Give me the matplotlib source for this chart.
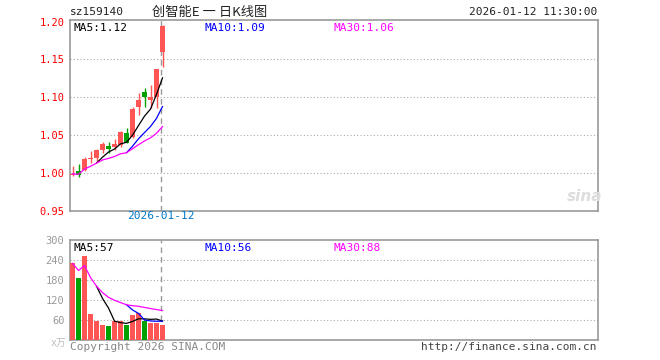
import matplotlib
matplotlib.use("Agg")
import matplotlib.pyplot as plt
import pandas as pd

# daily candles, sz159140
opens = [0.997, 1.003, 1.004, 1.019, 1.020, 1.031, 1.036, 1.034, 1.037, 1.053,
         1.048, 1.087, 1.107, 1.0965, 1.100, 1.160]
highs = [1.0096, 1.012, 1.0217, 1.0297, 1.032, 1.0416, 1.0416, 1.0447, 1.056, 1.059,
         1.0868, 1.1055, 1.112, 1.116, 1.138, 1.196]
lows = [0.996, 0.9955, 1.0033, 1.013, 1.015, 1.026, 1.026, 1.0307, 1.035, 1.0395,
        1.046, 1.077, 1.0876, 1.0855, 1.0855, 1.140]
closes = [0.999, 0.998, 1.019, 1.020, 1.030, 1.038, 1.032, 1.039, 1.054, 1.040,
          1.085, 1.096, 1.101, 1.1005, 1.137, 1.194]
volumes = [230, 187, 253, 79, 58, 46, 43, 57, 57, 46, 76, 82, 56, 50, 50, 46]
vol_up = [True, False, True, True, True, True, False, True, True, False,
          True, True, False, True, True, True]

price_ticks = [0.95, 1.00, 1.05, 1.10, 1.15, 1.20]
vol_ticks = [60, 120, 180, 240, 300]

RED = "#ff5555"
GREEN = "#00a000"
GRID = "#aaaaaa"
FRAME = "#999999"
MONO = ["DejaVu Sans Mono", "Noto Sans CJK SC"]
N_SLOTS = 88

plt.rcParams["font.family"] = MONO

close_s = pd.Series(closes)
vol_s = pd.Series(volumes, dtype=float)
ma5 = close_s.rolling(5).mean()
ma10 = close_s.rolling(10).mean()
ma30 = close_s.rolling(30, min_periods=1).mean()
vma5 = vol_s.rolling(5).mean()
vma10 = vol_s.rolling(10).mean()
vma30 = vol_s.rolling(30, min_periods=1).mean()
xs = list(range(len(closes)))

fig = plt.figure(figsize=(6.6, 3.6), dpi=100)
ax = fig.add_axes([70 / 660, 1 - 211 / 360, 528 / 660, 191 / 360])
axv = fig.add_axes([70 / 660, 1 - 340 / 360, 528 / 660, 100 / 360])

xlim = (-0.42, N_SLOTS - 0.42)
marker_x = len(closes) - 1.3

# price panel
for i in xs:
    up = closes[i] >= opens[i]
    col = RED if up else GREEN
    ax.vlines(i, lows[i], highs[i], color=col, lw=1, zorder=3)
    lo, hi = sorted((opens[i], closes[i]))
    ax.bar(i, max(hi - lo, 0.0008), bottom=lo, width=0.82, color=col, zorder=3,
           linewidth=0)
ax.plot(xs, ma5, color="black", lw=0.9, zorder=4)
ax.plot(xs, ma10, color="#0000ff", lw=0.9, zorder=4)
ax.plot(xs, ma30, color="#ff00ff", lw=0.9, zorder=4)
ax.axvline(marker_x, color=FRAME, lw=1, ls=(0, (4, 3)), zorder=2)
ax.set_xlim(*xlim)
ax.set_ylim(0.95, 1.202)
ax.set_yticks(price_ticks)
ax.set_yticklabels([f"{t:.2f}" for t in price_ticks], color="red", fontsize=7.5)
ax.set_xticks([])
for t in price_ticks[1:-1]:
    ax.axhline(t, color=GRID, lw=0.8, ls=(0, (1, 2)), zorder=1)
ax.tick_params(axis="y", length=0, pad=4)
for sp in ax.spines.values():
    sp.set_color(FRAME)
    sp.set_linewidth(1.2)
ax.text(0.006, 0.985, "MA5:1.12", transform=ax.transAxes, va="top", fontsize=8,
        color="black")
ax.text(0.255, 0.985, "MA10:1.09", transform=ax.transAxes, va="top", fontsize=8,
        color="#0000ff")
ax.text(0.5, 0.985, "MA30:1.06", transform=ax.transAxes, va="top", fontsize=8,
        color="#ff00ff")
ax.text(marker_x, 0.944, "2026-01-12", ha="center", va="center", fontsize=8,
        color="#0078c8")
ax.text(0.975, 0.075, "sina", transform=ax.transAxes, ha="center", va="center",
        fontsize=11, color="#dddddd", style="italic", weight="bold",
        family="DejaVu Sans")

# volume panel
vcols = [RED if u else GREEN for u in vol_up]
axv.bar(xs, volumes, width=0.82, color=vcols, linewidth=0, zorder=3)
axv.plot(xs, vma5, color="black", lw=0.9, zorder=4)
axv.plot(xs, vma10, color="#0000ff", lw=0.9, zorder=4)
axv.plot(xs, vma30, color="#ff00ff", lw=0.9, zorder=4)
axv.axvline(marker_x, color=FRAME, lw=1, ls=(0, (4, 3)), zorder=2)
axv.set_xlim(*xlim)
axv.set_ylim(0, 300)
axv.set_yticks(vol_ticks)
axv.set_yticklabels([str(t) for t in vol_ticks], color="#999999", fontsize=7.5)
axv.set_xticks([])
for t in vol_ticks[:-1]:
    axv.axhline(t, color=GRID, lw=0.8, ls=(0, (1, 2)), zorder=1)
axv.tick_params(axis="y", length=0, pad=4)
for sp in axv.spines.values():
    sp.set_color(FRAME)
    sp.set_linewidth(1.2)
axv.text(0.006, 0.97, "MA5:57", transform=axv.transAxes, va="top", fontsize=8,
         color="black")
axv.text(0.255, 0.97, "MA10:56", transform=axv.transAxes, va="top", fontsize=8,
         color="#0000ff")
axv.text(0.5, 0.97, "MA30:88", transform=axv.transAxes, va="top", fontsize=8,
         color="#ff00ff")

# header / footer text
fig.text(70 / 660, 1 - 12 / 360, "sz159140", va="center", fontsize=8, color="#222222")
fig.text(210 / 660, 1 - 12 / 360, "创智能E 一 日K线图", ha="center", va="center",
         fontsize=9.5, color="#222222", family=["Noto Sans CJK SC", "DejaVu Sans"])
fig.text(597 / 660, 1 - 12 / 360, "2026-01-12 11:30:00", ha="right", va="center",
         fontsize=8, color="#222222")
fig.text(66 / 660, 1 - 343 / 360, "x万", ha="right", va="center", fontsize=7,
         color="#bbbbbb")
fig.text(70 / 660, 1 - 347 / 360, "Copyright 2026 SINA.COM", va="center",
         fontsize=8, color="#888888")
fig.text(597 / 660, 1 - 347 / 360, "http://finance.sina.com.cn", ha="right",
         va="center", fontsize=8, color="#444444")

fig.savefig("out.png", dpi=100)
